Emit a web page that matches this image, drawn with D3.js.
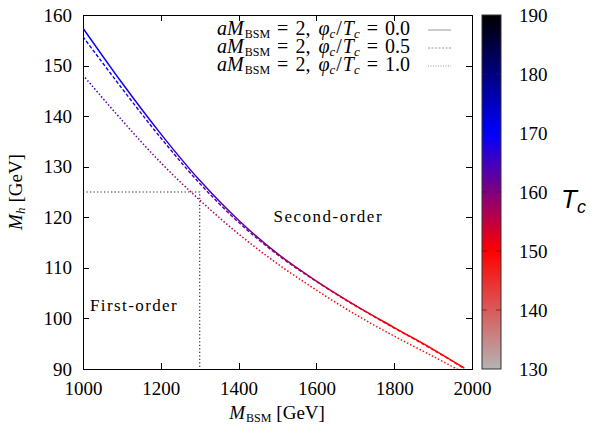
<!DOCTYPE html>
<html>
<head>
<meta charset="utf-8">
<title>Mh vs MBSM</title>
<style>
  body { margin: 0; background: #fff; }
  .axis path, .axis line { stroke: #000; fill: none; shape-rendering: crispEdges; }
</style>
</head>
<body>
<svg id="chart" width="591" height="427"></svg>
<script src="https://cdn.jsdelivr.net/npm/d3@7"></script>
<script>
// data
var mGrid = [1000, 1100, 1200, 1300, 1400, 1500, 1600, 1700, 1800, 1900, 1980];
var mhPhi00 = [157.4, 146.6, 136.5, 127.3, 119.4, 112.8, 107.4, 102.6, 98.2, 93.9, 90.2];
var mhPhi05 = [155.7, 145.5, 135.7, 126.7, 119.0, 112.6, 107.3, 102.5, 98.1, 93.8, 90.1];
var mhPhi10 = [148.1, 139.2, 130.8, 123.4, 116.7, 110.8, 105.6, 100.8, 96.5, 92.5, 89.2];
var tcPhi00 = [170.5, 169, 167, 165, 163, 160, 157, 154, 151, 150, 149];
var tcPhi05 = [170, 168, 166, 164, 162, 159, 156, 153, 150.5, 149.5, 149];
var tcPhi10 = [166, 163, 160, 157, 154, 152, 150.5, 149.5, 149, 148, 147.5];
var legendPhi = ["0.0", "0.5", "1.0"];
var xTicks = [1000, 1200, 1400, 1600, 1800, 2000];
var yTicks = [90, 100, 110, 120, 130, 140, 150, 160];
var cbTicks = [130, 140, 150, 160, 170, 180, 190];
var paletteStops = [130, 150, 170, 190];
var paletteColors = ["#b4b4b4", "#ff0000", "#0000ff", "#000000"];
var markM = 1300, markMh = 125;

var serif = "'Liberation Serif', 'DejaVu Serif', serif";

var margin = {top: 15, left: 83, right: 119, bottom: 58};
var width = 591 - margin.left - margin.right;
var height = 427 - margin.top - margin.bottom;

var svg = d3.select("#chart");
var defs = svg.append("defs");

var x = d3.scaleLinear().domain([1000, 2000]).range([0, width]);
var y = d3.scaleLinear().domain([90, 160]).range([height, 0]);
var color = d3.scaleLinear().domain(paletteStops).range(paletteColors);

defs.append("clipPath").attr("id", "plotclip")
  .append("rect").attr("width", width).attr("height", height);

var g = svg.append("g").attr("transform", "translate(" + margin.left + "," + margin.top + ")");

function styleTicks(sel) {
  sel.attr("font-family", null).attr("font-size", null);
  sel.selectAll("text").style("font-family", serif).style("font-size", "19px").style("fill", "#000");
}

// axes with inward ticks, mirrored
g.append("g").attr("class", "axis").attr("transform", "translate(0," + height + ")")
  .call(d3.axisBottom(x).tickValues(xTicks).tickSize(-6).tickPadding(13).tickFormat(d3.format("d")))
  .call(styleTicks);
g.append("g").attr("class", "axis")
  .call(d3.axisTop(x).tickValues(xTicks).tickSize(-6).tickFormat(""));
g.append("g").attr("class", "axis")
  .call(d3.axisLeft(y).tickValues(yTicks).tickSize(-6).tickPadding(11))
  .call(styleTicks);
g.append("g").attr("class", "axis").attr("transform", "translate(" + width + ",0)")
  .call(d3.axisRight(y).tickValues(yTicks).tickSize(-6).tickFormat(""));

// reference lines
g.append("path")
  .attr("d", "M" + x(1000) + "," + y(markMh) + "H" + x(markM) + "V" + y(90))
  .attr("fill", "none").attr("stroke", "#333").attr("stroke-width", 1.2)
  .attr("stroke-dasharray", "1.3,2.2");

// curves coloured by Tc via horizontal gradients
var series = [
  {mh: mhPhi00, tc: tcPhi00, dash: null, w: 1.5},
  {mh: mhPhi05, tc: tcPhi05, dash: "3.5,2", w: 1.4},
  {mh: mhPhi10, tc: tcPhi10, dash: "1.5,2", w: 1.5}
];
var line = d3.line().x(function(d) { return x(d[0]); }).y(function(d) { return y(d[1]); })
  .curve(d3.curveCatmullRom.alpha(0.5));

series.forEach(function(s, i) {
  var pts = mGrid.map(function(m, j) { return [m, s.mh[j]]; });
  var grad = defs.append("linearGradient").attr("id", "grad" + i)
    .attr("gradientUnits", "userSpaceOnUse")
    .attr("x1", x(mGrid[0])).attr("x2", x(mGrid[mGrid.length - 1])).attr("y1", 0).attr("y2", 0);
  mGrid.forEach(function(m, j) {
    grad.append("stop")
      .attr("offset", (m - mGrid[0]) / (mGrid[mGrid.length - 1] - mGrid[0]))
      .attr("stop-color", color(s.tc[j]));
  });
  g.append("path").datum(pts)
    .attr("clip-path", "url(#plotclip)")
    .attr("d", line).attr("fill", "none")
    .attr("stroke", "url(#grad" + i + ")")
    .attr("stroke-width", s.w)
    .attr("stroke-dasharray", s.dash);
});

// region labels
g.append("text").attr("x", x(1500) - 4).attr("y", y(120) + 5)
  .style("font-family", serif).style("font-size", "17px").style("letter-spacing", "1.5px").text("Second-order");
g.append("text").attr("x", 7).attr("y", y(102.5) + 5)
  .style("font-family", serif).style("font-size", "17px").style("letter-spacing", "1.4px").text("First-order");

// legend
var legend = g.append("g");
legendPhi.forEach(function(p, i) {
  var ly = 15 + i * 18;
  var t = legend.append("text").attr("x", 327).attr("y", ly + 5)
    .attr("text-anchor", "end").style("font-family", serif).style("font-size", "20px");
  t.append("tspan").style("font-style", "italic").text("aM");
  t.append("tspan").attr("dy", 3).attr("dx", 1).style("font-size", "12px").text("BSM");
  t.append("tspan").attr("dy", -3).attr("dx", 7).text("=");
  t.append("tspan").attr("dx", 7).text("2,");
  t.append("tspan").attr("dx", 8).style("font-style", "italic").text("φ");
  t.append("tspan").attr("dy", 3).style("font-size", "13px").style("font-style", "italic").text("c");
  t.append("tspan").attr("dy", -3).attr("dx", 1).text("/");
  t.append("tspan").attr("dx", 1).style("font-style", "italic").text("T");
  t.append("tspan").attr("dy", 3).style("font-size", "13px").style("font-style", "italic").text("c");
  t.append("tspan").attr("dy", -3).attr("dx", 7).text("=");
  t.append("tspan").attr("dx", 7).text(p);
  legend.append("line").attr("x1", 345).attr("x2", 368).attr("y1", ly).attr("y2", ly)
    .attr("stroke", "#999").attr("stroke-width", 1)
    .attr("stroke-dasharray", series[i].dash ? (i === 1 ? "2,1.5" : "1,1.5") : null);
});

// axis titles
var xt = svg.append("text").attr("x", 277).attr("y", 419).attr("text-anchor", "middle")
  .style("font-family", serif).style("font-size", "19px");
xt.append("tspan").style("font-style", "italic").text("M");
xt.append("tspan").attr("dy", 3).attr("dx", 1).style("font-size", "12px").text("BSM");
xt.append("tspan").attr("dy", -3).attr("dx", 5).text("[GeV]");

var yt = svg.append("text").attr("transform", "translate(22,192) rotate(-90)")
  .attr("text-anchor", "middle").style("font-family", serif).style("font-size", "19px");
yt.append("tspan").style("font-style", "italic").text("M");
yt.append("tspan").attr("dy", 3).style("font-size", "13px").style("font-style", "italic").text("h");
yt.append("tspan").attr("dy", -3).attr("dx", 5).text("[GeV]");

// colour bar
var cbX = 482, cbW = 19;
var cb = d3.scaleLinear().domain([130, 190]).range([margin.top + height, margin.top]);
var cbGrad = defs.append("linearGradient").attr("id", "cbgrad")
  .attr("x1", 0).attr("x2", 0).attr("y1", 1).attr("y2", 0);
paletteStops.forEach(function(v, i) {
  cbGrad.append("stop").attr("offset", (v - 130) / 60).attr("stop-color", paletteColors[i]);
});
svg.append("rect").attr("x", cbX).attr("y", margin.top).attr("width", cbW).attr("height", height)
  .attr("fill", "url(#cbgrad)").attr("stroke", "#333").attr("stroke-width", 1);

var cbAxis = svg.append("g").attr("class", "axis").attr("transform", "translate(" + (cbX + cbW) + ",0)")
  .call(d3.axisRight(cb).tickValues(cbTicks).tickSize(0).tickPadding(18))
  .call(styleTicks);
cbAxis.select(".domain").remove();
cbTicks.slice(1, -1).forEach(function(v) {
  svg.append("line").attr("x1", cbX).attr("x2", cbX + 5).attr("y1", cb(v)).attr("y2", cb(v))
    .attr("stroke", "#222").attr("stroke-width", 1).attr("opacity", 0.6);
  svg.append("line").attr("x1", cbX + cbW - 5).attr("x2", cbX + cbW).attr("y1", cb(v)).attr("y2", cb(v))
    .attr("stroke", "#222").attr("stroke-width", 1).attr("opacity", 0.6);
});

var tcLabel = svg.append("text").attr("x", 561).attr("y", 208)
  .style("font-family", "'Liberation Sans', sans-serif").style("font-size", "26px").style("font-style", "italic");
tcLabel.append("tspan").text("T");
tcLabel.append("tspan").attr("dy", 5).style("font-size", "18px").text("c");
</script>
</body>
</html>
